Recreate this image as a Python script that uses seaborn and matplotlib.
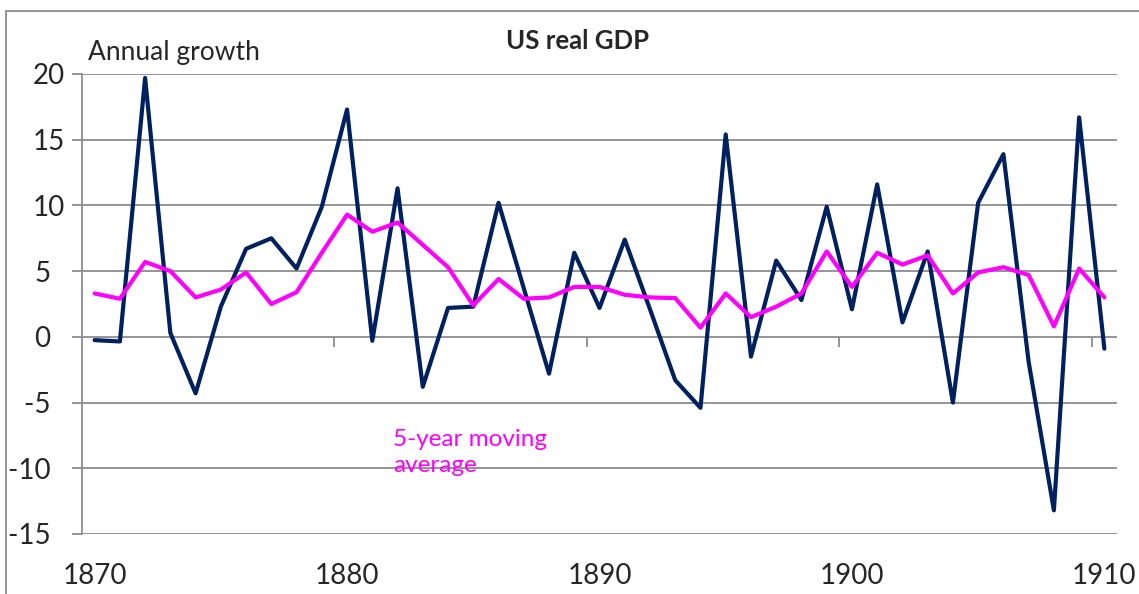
import matplotlib

matplotlib.use("Agg")
import seaborn as sns
from matplotlib import pyplot as plt
from matplotlib.patches import Rectangle

# 美国实际GDP年增长率（1870-1910）
years = list(range(1870, 1911))
growth = [
    -0.25, -0.35, 19.7, 0.3, -4.3, 2.3, 6.7, 7.5, 5.2, 9.9,
    17.3, -0.3, 11.3, -3.8, 2.2, 2.3, 10.2, 3.7, -2.8, 6.4,
    2.2, 7.4, 2.1, -3.3, -5.4, 15.4, -1.5, 5.8, 2.8, 9.9,
    2.1, 11.6, 1.1, 6.5, -5.0, 10.2, 13.9, -1.9, -13.2, 16.7,
    -0.9,
]
moving_avg = [
    3.3, 2.9, 5.7, 5.0, 3.0, 3.6, 4.9, 2.5, 3.4, 6.4,
    9.3, 8.0, 8.7, 7.0, 5.3, 2.4, 4.4, 2.9, 3.0, 3.8,
    3.8, 3.2, 3.0, 2.95, 0.7, 3.3, 1.5, 2.3, 3.3, 6.5,
    3.8, 6.4, 5.5, 6.2, 3.3, 4.9, 5.3, 4.7, 0.8, 5.2,
    3.0,
]
y_ticks = [-15, -10, -5, 0, 5, 10, 15, 20]
y_labels = ["-15  ", "-10  ", "-5  ", "0  ", "5  ", "10", "15", "20"]
x_labels = [1870, 1880, 1890, 1900, 1910]

NAVY = "#002060"
MAGENTA = "#FF00FF"
GRID = "#8c8c8c"

W, H = 1139, 594


def main():
    """绘制美国实际GDP增长率"""
    sns.set_style("white")
    plt.rcParams["font.family"] = ["Lato", "DejaVu Sans"]

    fig = plt.figure(figsize=(W / 100, H / 100), dpi=100)
    ax = fig.add_axes([82 / W, 60 / H, 1035 / W, 460 / H])

    sns.lineplot(x=years, y=growth, color=NAVY, lw=3, ax=ax)
    sns.lineplot(x=years, y=moving_avg, color=MAGENTA, lw=3, ax=ax)

    ax.set_xlim(years[0] - 0.5, years[-1] + 0.5)
    ax.set_ylim(-15, 20)
    ax.set_yticks(y_ticks, labels=y_labels, fontsize=20)
    ax.set_xticks(x_labels, labels=[str(x) for x in x_labels], fontsize=20)
    ax.tick_params(axis="x", length=0, pad=21)
    ax.tick_params(axis="y", length=7.2, width=1.3, color=GRID, pad=5, left=True)
    ax.grid(axis="y", color=GRID, lw=1.3)
    ax.grid(axis="x", visible=False)
    for side in ("top", "right", "bottom"):
        ax.spines[side].set_visible(False)
    ax.spines["left"].set_color(GRID)
    ax.spines["left"].set_linewidth(1.3)

    # 零线上的刻度
    sec = ax.secondary_xaxis(15 / 35)
    sec.set_xticks([x + 9.5 for x in x_labels[:-1]], labels=[])
    sec.tick_params(length=7.2, width=1.3, color=GRID, direction="out")
    sec.spines["bottom"].set_visible(False)

    fig.text(88 / W, 1 - 60 / H, "Annual growth", fontsize=19, va="baseline")
    fig.text(578 / W, 1 - 49 / H, "US real GDP", fontsize=18.5,
             fontweight="bold", ha="center", va="baseline")
    fig.text(393 / W, 1 - 472 / H, "5-year moving\naverage", fontsize=17.5,
             color=MAGENTA, va="baseline", linespacing=1.3)

    fig.patches.append(Rectangle((6 / W, -0.1), 1.2, 1.1 - 11 / H,
                                 transform=fig.transFigure, fill=False,
                                 edgecolor=GRID, lw=1.3))
    fig.savefig("out.png", dpi=100)
    plt.close(fig)


if __name__ == "__main__":
    main()
